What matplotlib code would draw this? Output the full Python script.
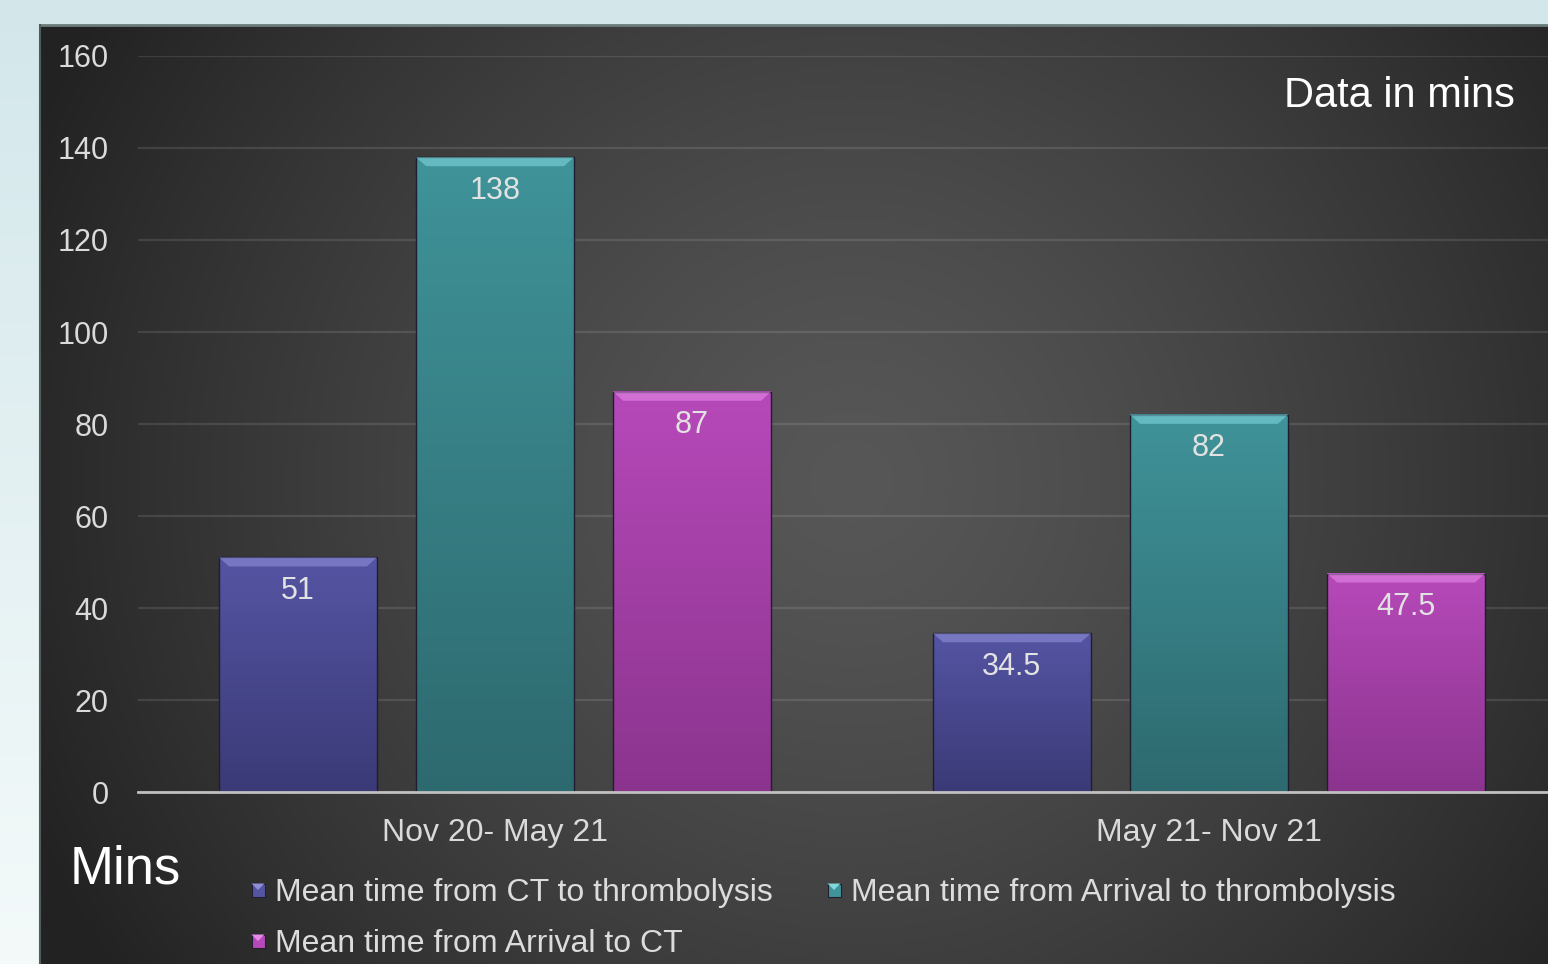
import numpy as np
import matplotlib
matplotlib.use("Agg")
import matplotlib.pyplot as plt
from matplotlib.patches import Polygon, Rectangle
from matplotlib.colors import to_rgb

plt.rcParams['font.family'] = ['Liberation Sans', 'DejaVu Sans']

periods = ['Nov 20- May 21', 'May 21- Nov 21']
series = ['Mean time from CT to thrombolysis',
          'Mean time from Arrival to thrombolysis',
          'Mean time from Arrival to CT']
ct_to_lysis = [51, 34.5]
arrival_to_lysis = [138, 82]
arrival_to_ct = [87, 47.5]
values = [ct_to_lysis, arrival_to_lysis, arrival_to_ct]

# (top, bottom, bevel) colours per series
colors = [('#5454a3', '#3b3a77', '#8f8fd8'),
          ('#3f9399', '#2d6a6f', '#7fd6dc'),
          ('#b649b9', '#8b348e', '#e58ae8')]

W, H = 1548, 964
fig = plt.figure(figsize=(W / 100, H / 100), dpi=100)

# light outer background
bg = fig.add_axes([0, 0, 1, 1])
t = np.linspace(0, 1, 200)[:, None]
top_c = np.array(to_rgb('#d3e7eb'))
bot_c = np.array(to_rgb('#f4fafa'))
bg_img = (top_c * (1 - t[..., None]) + bot_c * t[..., None]) * np.ones((1, 2, 1))
bg.imshow(bg_img, extent=[0, 1, 0, 1], aspect='auto')
bg.set_xlim(0, 1)
bg.set_ylim(0, 1)
bg.axis('off')

# dark radial panel
px0, py0 = 40, 25
pn = fig.add_axes([px0 / W, 0, 1 - px0 / W, (H - py0) / H])
xx, yy = np.meshgrid(np.arange(px0, W, 4), np.arange(py0, H, 4))
r = np.sqrt(((xx - 850) / 900.0) ** 2 + ((yy - 480) / 880.0) ** 2)
r = np.clip(r, 0, 1)
g = (0x57 - (0x57 - 0x22) * r ** 1.3) / 255.0
pn.imshow(np.dstack([g, g, g]), extent=[0, 1, 0, 1], aspect='auto',
          interpolation='bilinear')
pn.set_xlim(0, 1)
pn.set_ylim(0, 1)
pn.plot([0, 1], [1, 1], color='#6a7b7b', lw=2, clip_on=False)
pn.plot([0, 0], [0, 1], color='#4f5c5c', lw=1.5, clip_on=False)
pn.axis('off')

# main axes
ax_l, ax_r, y0px, ytop = 138, 1566, 792, 56
ax = fig.add_axes([ax_l / W, (H - y0px) / H, (ax_r - ax_l) / W, (y0px - ytop) / H])
ax.patch.set_alpha(0)

x = np.arange(len(periods))
offsets = [-0.276, 0, 0.276]
width = 0.221
bevel_dx = 10 / 714.0
bevel_dy = 9 / 4.6

for i, vals in enumerate(values):
    ctop, cbot, cbev = colors[i]
    bars = ax.bar(x + offsets[i], vals, width, color='none',
                  edgecolor='#1e1e30', linewidth=1, zorder=4)
    n = 100
    tt = np.linspace(0, 1, n)[:, None, None]
    grad = np.array(to_rgb(cbot)) * (1 - tt) + np.array(to_rgb(ctop)) * tt
    for rect, v in zip(bars, vals):
        bx = rect.get_x()
        bw = rect.get_width()
        ax.imshow(grad, extent=[bx, bx + bw, 0, v], origin='lower',
                  aspect='auto', zorder=3, interpolation='bilinear')
        ax.add_patch(Polygon([[bx, v], [bx + bw, v],
                              [bx + bw - bevel_dx, v - bevel_dy],
                              [bx + bevel_dx, v - bevel_dy]],
                             closed=True, facecolor=cbev, edgecolor='none',
                             alpha=0.6, zorder=4))
        ax.annotate(f'{v:g}', (bx + bw / 2, v), xytext=(0, -24),
                    textcoords='offset points', ha='center', va='center',
                    color='#e2e2e2', fontsize=22, zorder=5)

ax.set_xlim(-0.5, 1.5)
ax.set_ylim(0, 160)
ax.set_yticks(range(0, 161, 20))
ax.set_xticks(x, periods)
ax.grid(axis='y', color='white', alpha=0.11, lw=1.6, zorder=0)
ax.set_axisbelow(True)
for s in ['top', 'right', 'left']:
    ax.spines[s].set_visible(False)
ax.spines['bottom'].set_color('#c0c0c0')
ax.spines['bottom'].set_linewidth(2)
ax.spines['bottom'].set_zorder(6)
ax.tick_params(axis='y', length=0, pad=21, labelsize=22, labelcolor='#dadada')
ax.tick_params(axis='x', length=0, pad=19, labelsize=23, labelcolor='#dadada')

# annotations
fig.text(1515 / W, 1 - 96 / H, 'Data in mins', ha='right', va='center',
         color='white', fontsize=30)
fig.text(70 / W, 1 - 870 / H, 'Mins', ha='left', va='center',
         color='white', fontsize=38)

# legend
legend_pos = [(258, 893), (834, 893), (258, 944)]
for i, (lx, ly) in enumerate(legend_pos):
    ctop, cbot, cbev = colors[i]
    s = 13
    cy = ly - 3
    fig.patches.append(Rectangle(((lx - s / 2) / W, 1 - (cy + s / 2) / H),
                                 s / W, s / H, transform=fig.transFigure,
                                 facecolor=ctop, edgecolor='#202030', lw=0.8))
    fig.patches.append(Polygon([[(lx - s / 2) / W, 1 - (cy - s / 2) / H],
                                [(lx + s / 2) / W, 1 - (cy - s / 2) / H],
                                [lx / W, 1 - cy / H]],
                               closed=True, transform=fig.transFigure,
                               facecolor=cbev, edgecolor='none'))
    fig.text((lx + 17) / W, 1 - ly / H, series[i], ha='left', va='center',
             color='#dcdcdc', fontsize=23)

fig.savefig('out.png', dpi=100)
